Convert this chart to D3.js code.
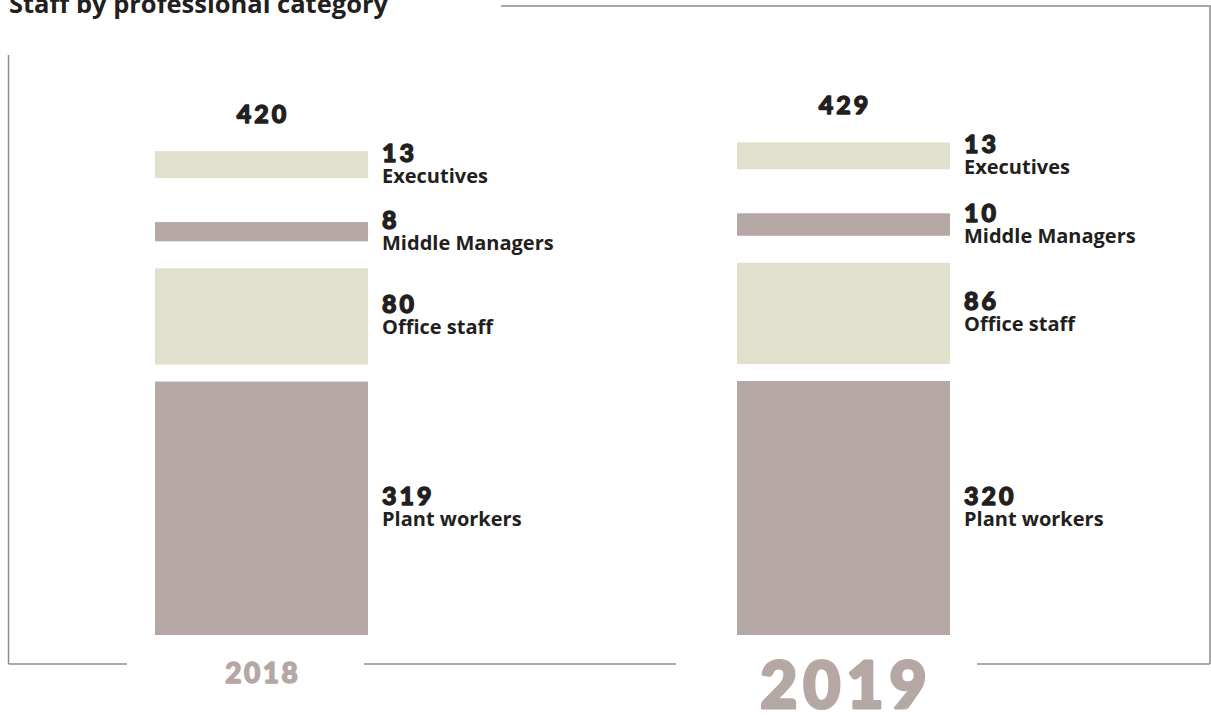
<!DOCTYPE html>
<html>
<head>
<meta charset="utf-8">
<script src="https://cdn.jsdelivr.net/npm/d3@7"></script>
<style>
  html, body { margin: 0; padding: 0; background: #ffffff; }
  svg { display: block; }
</style>
</head>
<body>
<svg id="chart" width="1211" height="715"></svg>
<script>
// ---- data ----
const years = ["2018", "2019"];
const categories = ["Plant workers", "Office staff", "Middle Managers", "Executives"];
const values2018 = [319, 80, 8, 13];
const values2019 = [320, 86, 10, 13];
const totals = [420, 429];
const title = "Staff by professional category";

// ---- style / layout ----
const W = 1211, H = 715;
const baseY = 635;
const gaps = [17, 27, 44];              // spacing between stacked blocks
const catColors = { "Plant workers": "#b5a8a4", "Office staff": "#e1e0cd",
                    "Middle Managers": "#b5a8a4", "Executives": "#e1e0cd" };
const ink = "#231f20";
const yearColor = "#b5a8a4";
const frameColor = "#8c8c8c";
const numFont = "Lato, 'Open Sans', sans-serif";
const txtFont = "'Open Sans', 'Noto Sans', sans-serif";

const svg = d3.select("#chart");

const x = d3.scaleBand().domain(years).range([155, 950]).paddingInner(0.634).paddingOuter(0);
const h = d3.scalePow().exponent(0.7).domain([0, 320]).range([0, 254]);

const series = { "2018": values2018, "2019": values2019 };

// frame
const frame = svg.append("g").attr("fill", "none").attr("stroke", frameColor).attr("stroke-width", 1.5);
frame.append("path").attr("d", "M8.5,55 V664");
frame.append("path").attr("d", "M501,6 H1210 V664");
[[8.5, 127], [364, 676], [977, 1210]].forEach(s => {
  frame.append("path").attr("d", `M${s[0]},664 H${s[1]}`);
});

// title
svg.append("text")
  .attr("x", 9).attr("y", 13)
  .attr("font-family", txtFont).attr("font-weight", 700).attr("font-size", 25.5)
  .attr("fill", ink)
  .text(title);

function heavy(sel, size, color, spacing, sw) {
  return sel.attr("font-family", numFont).attr("font-weight", 900).attr("font-size", size)
    .attr("letter-spacing", spacing)
    .attr("fill", color).attr("stroke", color).attr("stroke-width", sw)
    .attr("stroke-linejoin", "round");
}

years.forEach((yr, yi) => {
  const vals = series[yr];
  const x0 = x(yr), bw = x.bandwidth();
  const g = svg.append("g");
  let bottom = baseY;
  const blocks = [];
  vals.forEach((v, i) => {
    if (i > 0) bottom -= gaps[i - 1];
    const hh = h(v);
    const top = bottom - hh;
    blocks.push({ cat: categories[i], v, top, bottom, hh });
    bottom = top;
  });

  g.selectAll("rect").data(blocks).join("rect")
    .attr("x", x0).attr("width", bw)
    .attr("y", d => d.top).attr("height", d => d.hh)
    .attr("fill", d => catColors[d.cat]);

  const lab = g.selectAll("g.lab").data(blocks).join("g").attr("class", "lab")
    .attr("transform", d => `translate(${x0 + bw + 14},${(d.top + d.bottom) / 2 - 3})`);
  heavy(lab.append("text"), 25, ink, 3, 1.3).text(d => d.v);
  lab.append("text")
    .attr("y", 21)
    .attr("font-family", txtFont).attr("font-weight", 700).attr("font-size", 20)
    .attr("fill", ink).text(d => d.cat);

  // total
  const topMost = blocks[blocks.length - 1].top;
  heavy(g.append("text"), 25, ink, 3, 1.3)
    .attr("x", x0 + bw / 2 + 1.5).attr("y", topMost - 28)
    .attr("text-anchor", "middle")
    .text(totals[yi]);

  // year label
  const last = yi === years.length - 1;
  heavy(g.append("text"), last ? 64 : 28, yearColor, last ? 6 : 2.5, last ? 3 : 1.4)
    .attr("x", x0 + bw / 2 + (last ? 3 : 1.2)).attr("y", last ? 708 : 683)
    .attr("text-anchor", "middle")
    .text(yr);
});
</script>
</body>
</html>
